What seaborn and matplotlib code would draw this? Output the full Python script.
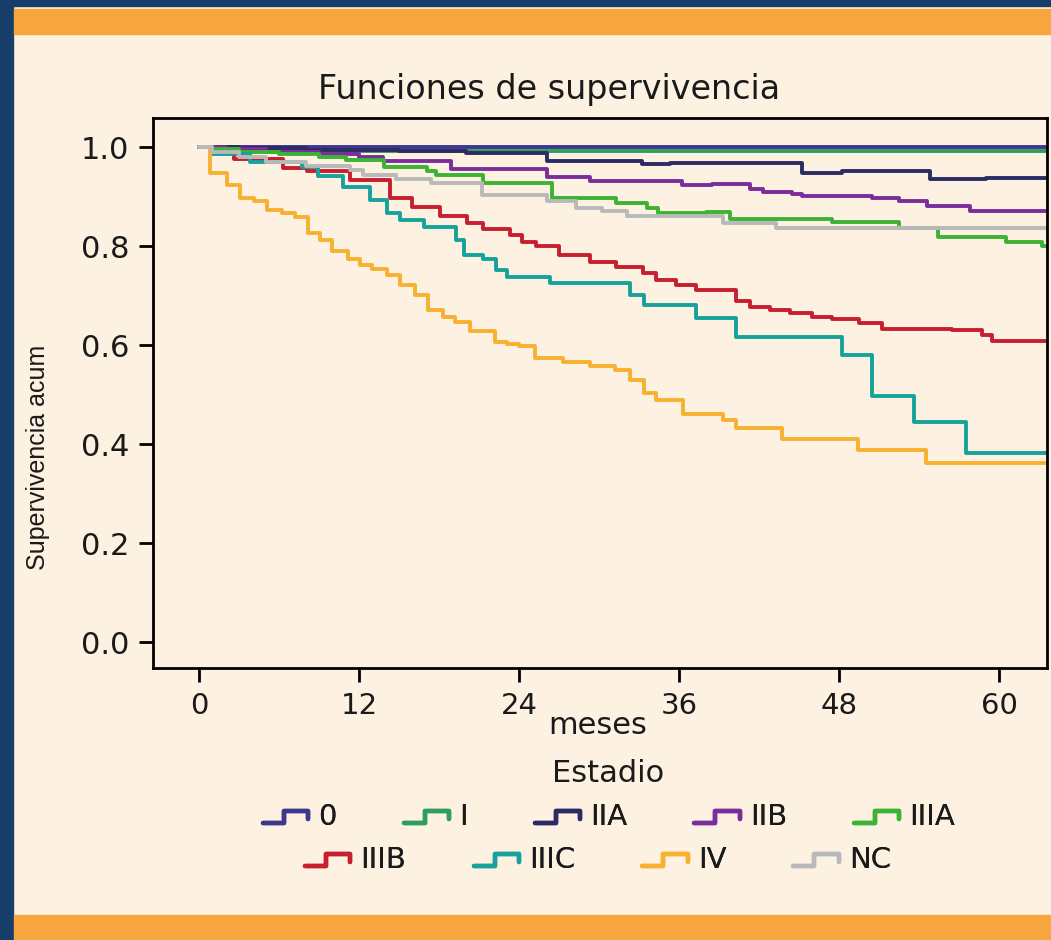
import numpy as np
import pandas as pd
import matplotlib
matplotlib.use("Agg")
import matplotlib.pyplot as plt
import seaborn as sns
from matplotlib.patches import Rectangle
from matplotlib.lines import Line2D
from matplotlib.legend_handler import HandlerBase

# ============================================================
# DATA
# ============================================================

stages = ['0', 'I', 'IIA', 'IIB', 'IIIA', 'IIIB', 'IIIC', 'IV', 'NC']
colors = ['#3d3790', '#2f9d5c', '#2c2b63', '#7b2e9b', '#3db235',
          '#c61f30', '#17a39b', '#f8b031', '#b9b9b9']

t_0 = [0, 64]
s_0 = [1.0, 1.0]

t_I = [0, 2, 6, 64]
s_I = [1.0, 0.996, 0.992, 0.992]

t_IIA = [0, 3, 8, 15, 20, 26.1, 33.2, 35.3, 45.2, 48.2, 54.8, 59, 64]
s_IIA = [1.0, 0.997, 0.994, 0.991, 0.988, 0.971, 0.965, 0.968, 0.948, 0.952, 0.935, 0.938, 0.94]

t_IIB = [0, 2, 5, 9, 12, 13.8, 18.9, 26.1, 29.3, 36.2, 38.5, 41.3, 42.3, 44.5, 45.2,
         50.5, 52.5, 54.6, 57.8, 64]
s_IIB = [1.0, 0.995, 0.99, 0.985, 0.98, 0.971, 0.955, 0.939, 0.931, 0.923, 0.926, 0.916,
         0.91, 0.906, 0.901, 0.896, 0.89, 0.881, 0.871, 0.871]

t_IIIA = [0, 1, 3, 6, 9, 11, 13.9, 17.1, 17.8, 21.3, 26.5, 31.3, 33.6, 34.4, 38.0, 39.8,
          47.5, 52.5, 55.4, 60.5, 63.2, 64]
s_IIIA = [1.0, 0.995, 0.99, 0.985, 0.98, 0.973, 0.96, 0.951, 0.943, 0.928, 0.896, 0.886,
          0.876, 0.866, 0.869, 0.854, 0.848, 0.836, 0.819, 0.809, 0.80, 0.80]

t_IIIB = [0, 1, 2.6, 6.3, 8.1, 11.3, 14.3, 16.0, 18.1, 20.1, 21.3, 23.3, 24.2, 25.3, 27.0,
          29.3, 31.3, 33.3, 34.3, 35.8, 37.3, 40.3, 41.3, 42.8, 44.3, 46.0, 47.5, 49.5,
          51.2, 56.5, 58.7, 59.5, 64]
s_IIIB = [1.0, 0.99, 0.975, 0.957, 0.951, 0.933, 0.896, 0.878, 0.86, 0.846, 0.834, 0.822,
          0.809, 0.80, 0.782, 0.768, 0.758, 0.745, 0.731, 0.721, 0.711, 0.688, 0.677,
          0.671, 0.665, 0.657, 0.652, 0.645, 0.633, 0.63, 0.62, 0.609, 0.609]

t_IIIC = [0, 1, 3.8, 7.7, 8.9, 10.8, 12.8, 14.1, 15.1, 16.9, 19.3, 19.9, 21.3, 22.3, 23.1,
          26.3, 32.3, 33.4, 37.3, 40.3, 48.2, 50.5, 53.6, 57.5, 64]
s_IIIC = [1.0, 0.985, 0.97, 0.96, 0.941, 0.92, 0.893, 0.866, 0.853, 0.838, 0.812, 0.782,
          0.773, 0.752, 0.738, 0.726, 0.701, 0.681, 0.654, 0.616, 0.579, 0.496, 0.445,
          0.382, 0.382]

t_IV = [0, 0.8, 2.1, 3.1, 4.1, 5.1, 6.2, 7.2, 8.2, 9.1, 10.0, 11.2, 12.1, 13.0, 14.1, 15.1,
        16.2, 17.2, 18.3, 19.2, 20.3, 22.2, 23.1, 24.0, 25.2, 27.3, 29.3, 31.2, 32.3, 33.4,
        34.3, 36.3, 39.3, 40.3, 43.7, 49.4, 54.5, 64]
s_IV = [1.0, 0.947, 0.923, 0.896, 0.89, 0.873, 0.866, 0.858, 0.826, 0.812, 0.789, 0.773,
        0.762, 0.754, 0.741, 0.721, 0.701, 0.671, 0.657, 0.647, 0.629, 0.607, 0.602, 0.597,
        0.573, 0.566, 0.558, 0.549, 0.529, 0.503, 0.489, 0.461, 0.448, 0.432, 0.411, 0.388,
        0.362, 0.362]

t_NC = [0, 1, 3, 5, 8, 11.3, 12.3, 14.8, 17.4, 21.2, 26.1, 28.3, 30.2, 32.1, 39.3, 43.3, 64]
s_NC = [1.0, 0.99, 0.98, 0.97, 0.962, 0.954, 0.943, 0.935, 0.928, 0.903, 0.891, 0.876,
        0.87, 0.86, 0.846, 0.836, 0.836]

x_ticks = [0, 12, 24, 36, 48, 60]
y_ticks = [0.0, 0.2, 0.4, 0.6, 0.8, 1.0]

times = [t_0, t_I, t_IIA, t_IIB, t_IIIA, t_IIIB, t_IIIC, t_IV, t_NC]
survs = [s_0, s_I, s_IIA, s_IIB, s_IIIA, s_IIIB, s_IIIC, s_IV, s_NC]

df = pd.concat([pd.DataFrame({'meses': t, 'surv': s, 'Estadio': st})
                for st, t, s in zip(stages, times, survs)], ignore_index=True)

# ============================================================
# STYLE
# ============================================================

sns.set_theme(style='ticks')
plt.rcParams['font.family'] = ['DejaVu Sans']

cream = '#fdf1e2'
orange = '#f7a63e'
navy = '#173d6b'
ink = '#1a1a1a'

fig = plt.figure(figsize=(10.51, 9.40), dpi=100, facecolor=cream)

# page decoration: dark border and orange bands
fig.patches.append(Rectangle((0, 0), 13 / 1051, 1, transform=fig.transFigure,
                             color=navy, zorder=-5))
fig.patches.append(Rectangle((0, 1 - 6 / 940), 1, 6 / 940, transform=fig.transFigure,
                             color=navy, zorder=-5))
fig.patches.append(Rectangle((14 / 1051, 1 - 34 / 940), 1, 25 / 940,
                             transform=fig.transFigure, color=orange, zorder=-4))
fig.patches.append(Rectangle((14 / 1051, 0), 1, 25 / 940,
                             transform=fig.transFigure, color=orange, zorder=-4))

ax = fig.add_axes([153 / 1051, 1 - 668 / 940, (1047 - 153) / 1051, (668 - 118) / 940])
ax.set_facecolor(cream)

sns.lineplot(data=df, x='meses', y='surv', hue='Estadio', hue_order=stages,
             palette=dict(zip(stages, colors)), drawstyle='steps-post',
             estimator=None, sort=False, legend=False, linewidth=2.8, ax=ax)

ax.set_xlim(-3.45, 63.6)
ax.set_ylim(-0.0525, 1.0586)
ax.set_xticks(x_ticks)
ax.set_yticks(y_ticks)
ax.set_yticklabels([f"{v:.1f}" for v in y_ticks])
ax.set_xlabel('')
ax.set_ylabel('')
for sp in ax.spines.values():
    sp.set_color('black')
    sp.set_linewidth(2)
ax.tick_params(axis='both', length=10, width=2, color='black', labelcolor=ink, pad=7)
ax.tick_params(axis='y', labelsize=22)
ax.tick_params(axis='x', labelsize=21)

fig.text(549 / 1051, 1 - 90 / 940, 'Funciones de supervivencia', ha='center',
         va='center', fontsize=24, color=ink)
fig.text(598 / 1051, 1 - 726 / 940, 'meses', ha='center', va='center',
         fontsize=22, color=ink)
# narrow vertical label
fig.text(38 / 1051, 1 - 457 / 940, 'Supervivencia acum', ha='center', va='center',
         rotation=90, fontsize=18, color=ink, fontstretch='condensed',
         family=['Liberation Sans Narrow', 'Liberation Sans', 'DejaVu Sans'])
fig.text(608 / 1051, 1 - 773 / 940, 'Estadio', ha='center', va='center',
         fontsize=22, color=ink)


# step shaped legend keys
class StepHandler(HandlerBase):
    def create_artists(self, legend, orig_handle, xdescent, ydescent, width, height,
                       fontsize, trans):
        xs = np.array([0, 0.45, 0.45, 0.97, 0.97]) * width - xdescent
        ys = np.array([0.1, 0.1, 0.7, 0.7, 0.3]) * height - ydescent
        line = Line2D(xs, ys, color=orig_handle.get_color(), lw=3.2)
        line.set_transform(trans)
        return [line]


handles = [Line2D([], [], color=c) for c in colors]
rows = [(0, 5, 817, 609), (5, 9, 860, 598)]
for a, b, ypix, xpix in rows:
    leg = fig.legend(handles[a:b], stages[a:b], loc='center',
                     bbox_to_anchor=(xpix / 1051, 1 - ypix / 940), ncol=b - a,
                     frameon=False, fontsize=21, handlelength=1.6, handletextpad=0.3,
                     columnspacing=2.3, handler_map={Line2D: StepHandler()})
    for txt in leg.get_texts():
        txt.set_color(ink)
    fig.add_artist(leg)

fig.savefig('out.png', dpi=100, facecolor=cream)
